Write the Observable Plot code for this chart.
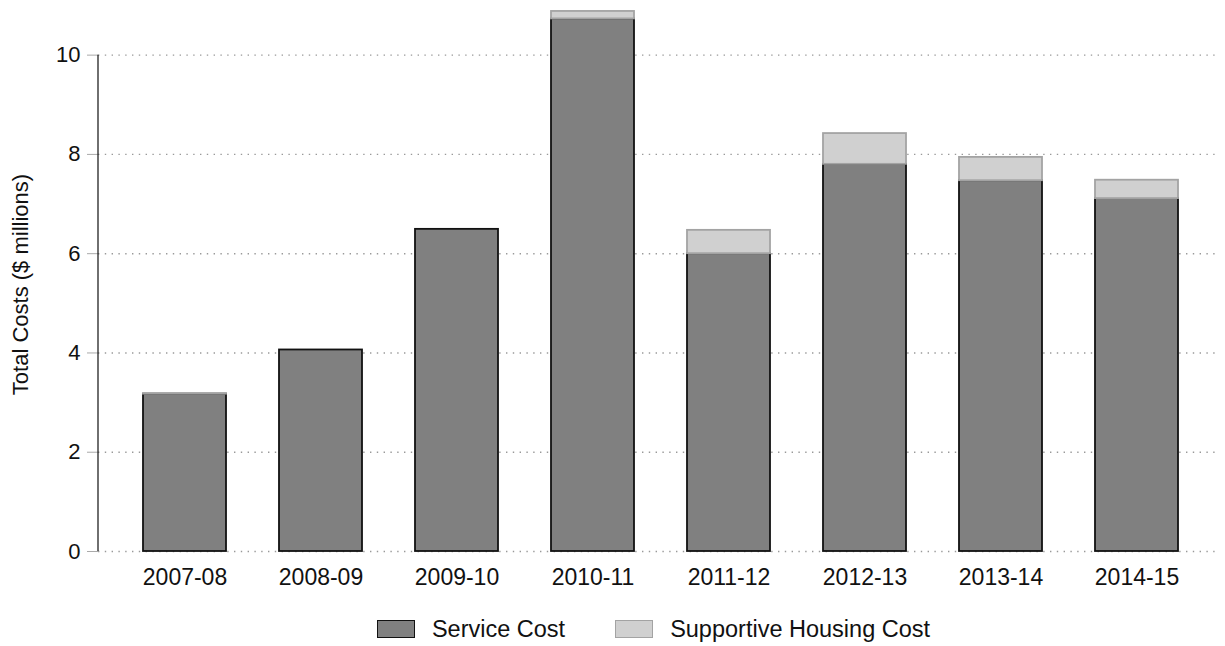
<!DOCTYPE html>
<html>
<head>
<meta charset="utf-8">
<script src="https://cdn.jsdelivr.net/npm/d3@7"></script>
<script src="https://cdn.jsdelivr.net/npm/@observablehq/plot@0.6"></script>
<style>
  html, body { margin: 0; padding: 0; background: #fff; }
  body { width: 1225px; height: 646px; overflow: hidden; font-family: "Liberation Sans", Arial, Helvetica, sans-serif; }
  #legend { display: flex; justify-content: center; align-items: center; height: 40px; padding-top: 9px; padding-left: 82px; font-size: 23.5px; color: #111; }
  .item { display: flex; align-items: center; margin: 0 25px; }
  .sw { width: 38px; height: 18px; margin-right: 17px; box-sizing: border-box; }
</style>
</head>
<body>
<div id="chart"></div>
<div id="legend"></div>
<script>
const years = ["2007-08","2008-09","2009-10","2010-11","2011-12","2012-13","2013-14","2014-15"];
const serviceCost = [3.17, 4.06, 6.49, 10.73, 6.00, 7.80, 7.47, 7.11];
const housingCost = [0.01, 0.00, 0.00, 0.15, 0.47, 0.62, 0.47, 0.37];
const series = ["Service Cost", "Supportive Housing Cost"];
const fills = ["#808080", "#d0d0d0"];
const strokes = ["#111111", "#a3a3a3"];
const yTicks = [0, 2, 4, 6, 8, 10];
const yLabel = "Total Costs ($ millions)";

const data = [];
years.forEach((y, i) => data.push({year: y, type: series[0], value: serviceCost[i]}));
years.forEach((y, i) => data.push({year: y, type: series[1], value: housingCost[i]}));

const chart = Plot.plot({
  width: 1225,
  height: 600,
  marginLeft: 98,
  marginRight: 5,
  marginTop: 5,
  marginBottom: 49,
  style: {fontFamily: "'Liberation Sans', Arial, Helvetica, sans-serif", color: "#111", background: "#fff"},
  x: {domain: years, paddingInner: 0.39, paddingOuter: 0.32, align: 0.52, label: null},
  y: {domain: [0, 11], label: null},
  color: {domain: series, range: fills},
  marks: [
    Plot.ruleY(yTicks, {stroke: "#999", strokeWidth: 1.4, strokeDasharray: "1.4,5.4"}),
    Plot.barY(data, Plot.stackY({
      x: "year", y: "value", fill: "type",
      stroke: d => d.type === series[0] ? strokes[0] : strokes[1],
      strokeWidth: 1.8, order: null
    })),
    Plot.axisY(yTicks, {tickSize: 11, tickPadding: 7, stroke: "#aaa", fontSize: 22, fill: "#111",
      tickFormat: d3.format("d"), label: null}),
    Plot.text([yLabel], {frameAnchor: "left", textAnchor: "middle", rotate: -90, dx: -78, dy: 6, fontSize: 22, fill: "#111"}),
    Plot.axisX({tickSize: 0, tickPadding: 17, fontSize: 23, fill: "#111", label: null})
  ]
});
document.getElementById("chart").appendChild(chart);

// vertical axis line, from the y scale
const ys = chart.scale("y");
d3.select(chart).append("line")
  .attr("x1", 98).attr("x2", 98)
  .attr("y1", ys.apply(10)).attr("y2", ys.apply(0))
  .attr("stroke", "#222").attr("stroke-width", 1.3);

const lg = d3.select("#legend");
series.forEach((s, i) => {
  const it = lg.append("div").attr("class", "item");
  it.append("div").attr("class", "sw")
    .style("background", fills[i]).style("border", `1.8px solid ${strokes[i]}`);
  it.append("span").text(s);
});
</script>
</body>
</html>
